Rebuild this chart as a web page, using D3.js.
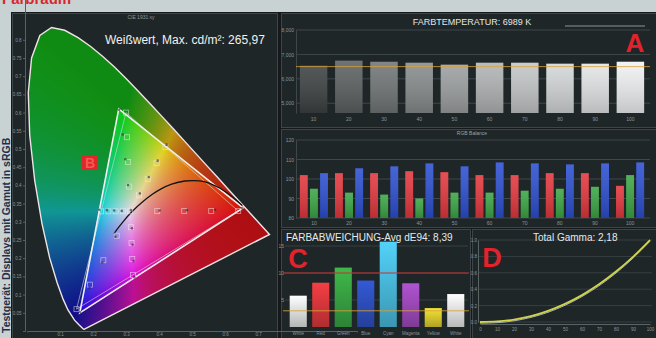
<!DOCTYPE html>
<html>
<head>
<meta charset="utf-8">
<script src="https://cdn.jsdelivr.net/npm/d3@7"></script>
<style>
  body { margin: 0; background: #c8d1d0; }
  svg { display: block; font-family: "Liberation Sans", Arial, sans-serif; }
</style>
</head>
<body>
<svg id="chart" width="656" height="338"></svg>
<script>
// ---------------- data ----------------
// CIE 1931 spectral locus (x, y), 380–700 nm
const spectralLocus = [
  [0.1741,0.0050],[0.1738,0.0049],[0.1733,0.0048],[0.1726,0.0048],[0.1714,0.0051],
  [0.1689,0.0069],[0.1644,0.0109],[0.1566,0.0177],[0.1440,0.0297],[0.1241,0.0578],
  [0.1096,0.0868],[0.0913,0.1327],[0.0687,0.2007],[0.0454,0.2950],[0.0235,0.4127],
  [0.0082,0.5384],[0.0039,0.6548],[0.0139,0.7502],[0.0389,0.8120],[0.0743,0.8338],
  [0.1142,0.8262],[0.1547,0.8059],[0.1929,0.7816],[0.2296,0.7543],[0.2658,0.7243],
  [0.3016,0.6923],[0.3373,0.6589],[0.3731,0.6245],[0.4087,0.5896],[0.4441,0.5547],
  [0.4788,0.5202],[0.5125,0.4866],[0.5448,0.4544],[0.5752,0.4242],[0.6029,0.3965],
  [0.6270,0.3725],[0.6658,0.3340],[0.6915,0.3083],[0.7079,0.2920],[0.7190,0.2809],
  [0.7260,0.2740],[0.7300,0.2700],[0.7334,0.2666],[0.7347,0.2653]
];
// black-body locus, ~15000 K down to 1000 K
const planckLocus = [
  [0.2637,0.2673],[0.2722,0.2785],[0.2807,0.2884],[0.2952,0.3048],[0.3064,0.3166],
  [0.3221,0.3318],[0.3451,0.3516],[0.3805,0.3768],[0.4053,0.3907],[0.4369,0.4041],
  [0.4770,0.4137],[0.5267,0.4133],[0.5491,0.4082],[0.5857,0.3931],[0.6251,0.3674],
  [0.6528,0.3444]
];
const referenceGamut = [[0.640,0.330],[0.300,0.600],[0.150,0.060]];
const measuredGamut  = [[0.655,0.338],[0.278,0.610],[0.160,0.050]];
// saturation sweep targets (white, then 25/50/75/100 % of R, G, B, C, M, Y)
const sweepTargets = [
  [0.3127,0.3290],
  [0.3946,0.3293],[0.4764,0.3295],[0.5582,0.3298],[0.6400,0.3300],
  [0.3095,0.3968],[0.3064,0.4645],[0.3032,0.5323],[0.3000,0.6000],
  [0.2720,0.2618],[0.2314,0.1945],[0.1907,0.1273],[0.1500,0.0600],
  [0.2907,0.3289],[0.2687,0.3289],[0.2467,0.3288],[0.2247,0.3287],
  [0.3148,0.2853],[0.3168,0.2416],[0.3189,0.1979],[0.3209,0.1542],
  [0.3394,0.3731],[0.3660,0.4172],[0.3927,0.4612],[0.4193,0.5053]
];
const sweepMeasured = [
  [0.3150,0.3320],
  [0.4020,0.3310],[0.4850,0.3320],[0.5700,0.3330],[0.6520,0.3370],
  [0.3060,0.4010],[0.2980,0.4720],[0.2900,0.5400],[0.2790,0.6080],
  [0.2680,0.2590],[0.2280,0.1880],[0.1900,0.1190],[0.1610,0.0520],
  [0.2870,0.3300],[0.2640,0.3310],[0.2420,0.3320],[0.2190,0.3330],
  [0.3180,0.2820],[0.3200,0.2370],[0.3230,0.1920],[0.3250,0.1480],
  [0.3420,0.3780],[0.3690,0.4230],[0.3960,0.4680],[0.4230,0.5120]
];
const cieXTicks = [0.1,0.2,0.3,0.4,0.5,0.6,0.7];
const cieYTicks = [0.05,0.1,0.15,0.2,0.25,0.3,0.35,0.4,0.45,0.5,0.55,0.6,0.65,0.7,0.75,0.8];

// colour temperature per grey level (K)
const greyLevels = ["10","20","30","40","50","60","70","80","90","100"];
const cctValues  = [6540,6745,6700,6660,6580,6660,6660,6620,6620,6700];
const cctTicks   = [5000,6000,7000,8000];
const cctTarget  = 6500;

// RGB balance per grey level (%)
const rgbRed   = [102.0,103.0,103.0,104.0,103.5,102.0,102.0,103.0,103.0,96.5];
const rgbGreen = [95.0,93.0,92.0,90.0,93.0,93.0,94.0,95.0,96.0,102.0];
const rgbBlue  = [103.0,105.5,106.5,108.0,106.5,108.5,108.0,107.5,108.0,108.5];
const rgbTicks = [80,90,100,110,120];

// colour deviation per patch (dE94)
const patchNames   = ["White","Red","Green","Blue","Cyan","Magenta","Yellow","White"];
const patchDeltaE  = [5.8,8.2,11.0,8.6,15.8,8.1,3.5,6.1];
const deltaETicks  = [5,10,15];
const deltaELimits = [3,10];

// gamma: stimulus (%) vs. normalised luminance
const gammaInput    = [0,10,20,30,40,50,60,70,80,90,100];
const gammaMeasured = [0,0.0066,0.030,0.072,0.136,0.221,0.328,0.459,0.615,0.795,1];
const gammaTarget   = [0,0.0063,0.029,0.071,0.133,0.218,0.325,0.456,0.612,0.793,1];
const gammaTicks    = [0,0.2,0.4,0.6,0.8,1];

// ---------------- styles ----------------
const barGreys    = ["#3d4142","#5c6061","#717576","#878b8c","#9c9fa0","#b0b3b4","#c3c6c7","#d3d6d7","#e2e4e5","#f0f1f2"];
const patchFills  = ["#e8eaea","#e03a3e","#3aa845","#2f52c4","#4cc0e4","#a24cc0","#e0d030","#eceeee"];
const FONT = '"Liberation Sans", Arial, sans-serif';
const TICK = "#8c9597";

const svg = d3.select("#chart");
const defs = svg.append("defs");

// paper around the screen
svg.append("rect").attr("width",656).attr("height",338).attr("fill","#c9d2d2");
svg.append("text").attr("x",2).attr("y",4).attr("fill","#d8262e")
  .attr("font-size",15).attr("font-weight","bold").text("Farbraum");
svg.append("text").attr("transform","translate(10,333) rotate(-90)")
  .attr("fill","#22304c").attr("font-size",10.5).attr("font-weight","bold")
  .text("Testgerät: Displays mit Gamut in sRGB");

// screen
svg.append("rect").attr("x",11).attr("y",12).attr("width",645).attr("height",326).attr("fill","#15191b");

function panel(x,y,w,h){
  svg.append("rect").attr("x",x+0.5).attr("y",y+0.5).attr("width",w).attr("height",h)
    .attr("fill","#1f2628").attr("stroke","#3d4548").attr("stroke-width",1);
}
panel(12,13,265,330);
panel(281,13,380,114);
panel(281,129,380,98);
panel(281,229,189,120);
panel(472,229,190,120);

// ---------------- CIE chart ----------------
const cx = d3.scaleLinear().domain([0,1]).range([27,357]);
const cy = d3.scaleLinear().domain([0,1]).range([331,-33]);
const xyLine = d3.line().x(d=>cx(d[0])).y(d=>cy(d[1]));

svg.append("text").attr("x",141).attr("y",18.5).attr("text-anchor","middle")
  .attr("fill","#8e989a").attr("font-size",5).text("CIE 1931 xy");

defs.append("clipPath").attr("id","horseshoe")
  .append("path").attr("d", xyLine(spectralLocus) + "Z");

// chromaticity fill, computed per pixel from xy; brighter inside the display gamut
(function(){
  const ox = 18, oy = 16, w = 262, h = 320;
  const cv = document.createElement("canvas");
  cv.width = w; cv.height = h;
  const ctx = cv.getContext("2d");
  const img = ctx.createImageData(w,h);
  const enc = v => Math.pow(Math.max(0,v), 1/2.2);
  for (let j=0;j<h;j++){
    for (let i=0;i<w;i++){
      const x = cx.invert(ox+i+0.5);
      const y = Math.max(0.003, cy.invert(oy+j+0.5));
      const X = x/y, Y = 1, Z = (1-x-y)/y;
      let r =  3.2406*X - 1.5372*Y - 0.4986*Z;
      let g = -0.9689*X + 1.8758*Y + 0.0415*Z;
      let b =  0.0557*X - 0.2040*Y + 1.0570*Z;
      r = Math.max(0,r); g = Math.max(0,g); b = Math.max(0,b);
      const m = Math.max(r,g,b,1e-6);
      r = enc(r/m); g = enc(g/m); b = enc(b/m);
      const avg = (r+g+b)/3;
      const inside = d3.polygonContains(measuredGamut, [x,y]);
      let out;
      if (inside) {
        const t = (c,k) => 0.05 + k*Math.pow(0.92*c + 0.08*avg, 1.7);
        out = [t(r,0.86), t(g,0.80), t(b,0.86)];
      } else {
        const t = (c,k,o,e) => o + k*Math.pow(0.88*c + 0.12*avg, e);
        out = [t(r,0.74,0.06,2.2), t(g,0.58,0.06,2.2), t(b,0.58,0.07,3.0)];
      }
      const k = (j*w+i)*4;
      img.data[k]   = 255*out[0];
      img.data[k+1] = 255*out[1];
      img.data[k+2] = 255*out[2];
      img.data[k+3] = 255;
    }
  }
  ctx.putImageData(img,0,0);
  svg.append("image").attr("x",ox).attr("y",oy).attr("width",w).attr("height",h)
    .attr("href", cv.toDataURL()).attr("clip-path","url(#horseshoe)");
})();

svg.append("path").attr("d", xyLine(spectralLocus)+"Z")
  .attr("fill","none").attr("stroke","#efe4e4").attr("stroke-width",1.4);

// axes
const cieLeft = svg.append("g").attr("transform","translate(25,0)")
  .call(d3.axisLeft(cy).tickValues(cieYTicks).tickSize(2).tickPadding(1.5).tickFormat(d3.format(".2~f")));
const cieBottom = svg.append("g").attr("transform","translate(0,331)")
  .call(d3.axisBottom(cx).tickValues(cieXTicks).tickSize(1.5).tickPadding(0.5).tickFormat(d3.format(".1f")));
[cieLeft,cieBottom].forEach(g=>{
  g.select(".domain").attr("stroke","#59625f");
  g.selectAll(".tick line").attr("stroke","#59625f");
  g.selectAll("text").attr("fill",TICK).attr("font-size",4.5).attr("font-family",FONT);
});

// gamut triangles
svg.append("path").attr("d", xyLine(referenceGamut)+"Z")
  .attr("fill","none").attr("stroke","#d8d8d8").attr("stroke-opacity",0.6).attr("stroke-width",1);
svg.append("path").attr("d", xyLine(measuredGamut)+"Z")
  .attr("fill","none").attr("stroke","#f2eeee").attr("stroke-width",1.6);

// black-body locus
svg.append("path").attr("d", d3.line().curve(d3.curveBasis).x(d=>cx(d[0])).y(d=>cy(d[1]))(planckLocus))
  .attr("fill","none").attr("stroke","#141414").attr("stroke-width",1.3);

// sweep targets (squares) and measurements (dots)
svg.append("g").selectAll("rect").data(sweepTargets).join("rect")
  .attr("x",d=>cx(d[0])-2.5).attr("y",d=>cy(d[1])-2.5).attr("width",5).attr("height",5)
  .attr("fill","none").attr("stroke","#f2eeee").attr("stroke-opacity",0.6).attr("stroke-width",0.8);
svg.append("g").selectAll("circle").data(sweepMeasured).join("circle")
  .attr("cx",d=>cx(d[0])).attr("cy",d=>cy(d[1])).attr("r",1.3)
  .attr("fill","#2a2a2a").attr("fill-opacity",0.6);

svg.append("text").attr("x",105).attr("y",44).attr("fill","#f0f2f2")
  .attr("font-size",12).text("Weißwert, Max. cd/m²: 265,97");

// marker B
svg.append("rect").attr("x",82).attr("y",155).attr("width",16).attr("height",15).attr("fill","#e2262c");
svg.append("text").attr("x",90).attr("y",168).attr("text-anchor","middle")
  .attr("fill","#f45a50").attr("font-size",14).attr("font-weight","bold").text("B");

// ---------------- A: colour temperature ----------------
const xA = d3.scaleBand().domain(greyLevels).range([296,648]).paddingInner(0.22).paddingOuter(0.11);
const yA = d3.scaleLinear().domain([4600,8000]).range([113,30]);

svg.append("text").attr("x",472).attr("y",25).attr("text-anchor","middle")
  .attr("fill","#e2e6e6").attr("font-size",9).text("FARBTEMPERATUR: 6989 K");
svg.append("line").attr("x1",565).attr("x2",645).attr("y1",26).attr("y2",26)
  .attr("stroke","#8d9496").attr("stroke-width",1);

svg.append("g").selectAll("line").data(cctTicks).join("line")
  .attr("x1",296).attr("x2",650).attr("y1",d=>yA(d)).attr("y2",d=>yA(d))
  .attr("stroke","#3e474a").attr("stroke-width",1);
const axA = svg.append("g").attr("transform","translate(296,0)")
  .call(d3.axisLeft(yA).tickValues(cctTicks).tickSize(0).tickPadding(2));
axA.select(".domain").attr("stroke","#3e474a");
axA.selectAll("text").attr("fill",TICK).attr("font-size",5).attr("font-family",FONT);

const shade = defs.append("linearGradient").attr("id","shade").attr("x1",0).attr("x2",0).attr("y1",0).attr("y2",1);
shade.append("stop").attr("offset","0%").attr("stop-color","#fff").attr("stop-opacity",0.12);
shade.append("stop").attr("offset","100%").attr("stop-color","#000").attr("stop-opacity",0.18);

svg.append("g").selectAll("rect").data(cctValues).join("rect")
  .attr("x",(d,i)=>xA(greyLevels[i])).attr("width",xA.bandwidth())
  .attr("y",d=>yA(d)).attr("height",d=>yA(4600)-yA(d))
  .attr("fill",(d,i)=>barGreys[i]);
svg.append("g").selectAll("rect").data(cctValues).join("rect")
  .attr("x",(d,i)=>xA(greyLevels[i])).attr("width",xA.bandwidth())
  .attr("y",d=>yA(d)).attr("height",d=>yA(4600)-yA(d))
  .attr("fill","url(#shade)");
svg.append("line").attr("x1",296).attr("x2",650).attr("y1",yA(cctTarget)).attr("y2",yA(cctTarget))
  .attr("stroke","#d8a03a").attr("stroke-width",1).attr("stroke-opacity",0.8);
svg.append("g").selectAll("text").data(greyLevels).join("text")
  .attr("x",d=>xA(d)+xA.bandwidth()/2).attr("y",121).attr("text-anchor","middle")
  .attr("fill",TICK).attr("font-size",5).text(d=>d);

svg.append("text").attr("x",635).attr("y",52).attr("text-anchor","middle")
  .attr("fill","#e3222c").attr("font-size",26).attr("font-weight","bold").text("A");

// ---------------- RGB balance ----------------
const xB = d3.scaleBand().domain(greyLevels).range([296,648]).paddingInner(0.2).paddingOuter(0.11);
const xBi = d3.scaleBand().domain(["r","g","b"]).range([0,xB.bandwidth()]).paddingInner(0.22);
const yB = d3.scaleLinear().domain([80,120]).range([218,140]);

svg.append("text").attr("x",472).attr("y",135).attr("text-anchor","middle")
  .attr("fill","#9aa3a5").attr("font-size",5).text("RGB Balance");
svg.append("g").selectAll("line").data(rgbTicks).join("line")
  .attr("x1",296).attr("x2",650).attr("y1",d=>yB(d)).attr("y2",d=>yB(d))
  .attr("stroke","#3e474a").attr("stroke-width",1);
const axB = svg.append("g").attr("transform","translate(296,0)")
  .call(d3.axisLeft(yB).tickValues(rgbTicks).tickSize(0).tickPadding(2));
axB.select(".domain").attr("stroke","#3e474a");
axB.selectAll("text").attr("fill",TICK).attr("font-size",5).attr("font-family",FONT);

const rgbSeries = [
  {key:"r", values:rgbRed,   fill:"#e2373d"},
  {key:"g", values:rgbGreen, fill:"#3aa544"},
  {key:"b", values:rgbBlue,  fill:"#2c4fd0"}
];
rgbSeries.forEach(s=>{
  const g = svg.append("g");
  g.selectAll("rect.bar").data(s.values).join("rect").attr("class","bar")
    .attr("x",(d,i)=>xB(greyLevels[i])+xBi(s.key)).attr("width",xBi.bandwidth())
    .attr("y",d=>yB(d)).attr("height",d=>yB(80)-yB(d)).attr("fill",s.fill);
  g.selectAll("rect.sh").data(s.values).join("rect").attr("class","sh")
    .attr("x",(d,i)=>xB(greyLevels[i])+xBi(s.key)).attr("width",xBi.bandwidth())
    .attr("y",d=>yB(d)).attr("height",d=>yB(80)-yB(d)).attr("fill","url(#shade)");
});
svg.append("g").selectAll("text").data(greyLevels).join("text")
  .attr("x",d=>xB(d)+xB.bandwidth()/2).attr("y",225).attr("text-anchor","middle")
  .attr("fill",TICK).attr("font-size",5).text(d=>d);

// ---------------- C: colour deviation ----------------
const xC = d3.scaleBand().domain(d3.range(patchNames.length)).range([287,467]).paddingInner(0.24).paddingOuter(0.12);
const yC = d3.scaleLinear().domain([0,17]).range([327,235.2]);

svg.append("g").selectAll("line").data(deltaETicks).join("line")
  .attr("x1",285).attr("x2",468).attr("y1",d=>yC(d)).attr("y2",d=>yC(d))
  .attr("stroke","#363f42").attr("stroke-width",1);
const axC = svg.append("g").attr("transform","translate(285,0)")
  .call(d3.axisLeft(yC).tickValues(deltaETicks).tickSize(0).tickPadding(1));
axC.select(".domain").remove();
axC.selectAll("text").attr("fill",TICK).attr("font-size",5).attr("font-family",FONT);

const patchGrad = patchFills.map((c,i)=>{
  const id = "patch"+i;
  const lg = defs.append("linearGradient").attr("id",id).attr("x1",0).attr("x2",0).attr("y1",0).attr("y2",1);
  lg.append("stop").attr("offset","0%").attr("stop-color",d3.color(c).brighter(0.25));
  lg.append("stop").attr("offset","100%").attr("stop-color",d3.color(c).darker(0.7));
  return "url(#"+id+")";
});
svg.append("g").selectAll("rect").data(patchDeltaE).join("rect")
  .attr("x",(d,i)=>xC(i)).attr("width",xC.bandwidth())
  .attr("y",d=>yC(d)).attr("height",d=>yC(0)-yC(d)).attr("fill",(d,i)=>patchGrad[i]);

svg.append("line").attr("x1",283).attr("x2",469).attr("y1",yC(deltaELimits[1])).attr("y2",yC(deltaELimits[1]))
  .attr("stroke","#c83030").attr("stroke-width",1.2);
svg.append("line").attr("x1",283).attr("x2",469).attr("y1",yC(deltaELimits[0])).attr("y2",yC(deltaELimits[0]))
  .attr("stroke","#d8a03a").attr("stroke-width",1).attr("stroke-opacity",0.85);

svg.append("g").selectAll("text").data(patchNames).join("text")
  .attr("x",(d,i)=>xC(i)+xC.bandwidth()/2).attr("y",334.5).attr("text-anchor","middle")
  .attr("fill",TICK).attr("font-size",4.5).text(d=>d);

svg.append("text").attr("x",286).attr("y",241).attr("fill","#e6eaea")
  .attr("font-size",10).text("FARBABWEICHUNG-Avg dE94: 8,39");
svg.append("text").attr("x",298).attr("y",268).attr("text-anchor","middle")
  .attr("fill","#e3222c").attr("font-size",27).attr("font-weight","bold").text("C");

// ---------------- D: gamma ----------------
const xD = d3.scaleLinear().domain([0,100]).range([480,650]);
const yD = d3.scaleLinear().domain([0,1]).range([322,240]);

svg.append("g").selectAll("line").data(gammaTicks).join("line")
  .attr("x1",478).attr("x2",652).attr("y1",d=>yD(d)).attr("y2",d=>yD(d))
  .attr("stroke","#363f42").attr("stroke-width",1);
const axDy = svg.append("g").attr("transform","translate(478,0)")
  .call(d3.axisLeft(yD).tickValues(gammaTicks).tickSize(0).tickPadding(1).tickFormat(d3.format(".1f")));
axDy.select(".domain").attr("stroke","#5a6366");
axDy.selectAll("text").attr("fill",TICK).attr("font-size",4.5).attr("font-family",FONT);
const axDx = svg.append("g").attr("transform","translate(0,324)")
  .call(d3.axisBottom(xD).tickValues(gammaInput).tickSize(0).tickPadding(4));
axDx.select(".domain").attr("stroke","#5a6366");
axDx.selectAll("text").attr("fill",TICK).attr("font-size",4.5).attr("font-family",FONT);

const gLine = d3.line().curve(d3.curveMonotoneX).x((d,i)=>xD(gammaInput[i])).y(d=>yD(d));
svg.append("path").attr("d",gLine(gammaTarget)).attr("fill","none")
  .attr("stroke","#a8b4bc").attr("stroke-width",1).attr("transform","translate(0,1.2)");
svg.append("path").attr("d",gLine(gammaMeasured)).attr("fill","none")
  .attr("stroke","#d2d44a").attr("stroke-width",1.8);

svg.append("text").attr("x",533).attr("y",241).attr("fill","#e6eaea")
  .attr("font-size",10).text("Total Gamma: 2,18");
svg.append("text").attr("x",492).attr("y",267).attr("text-anchor","middle")
  .attr("fill","#e3222c").attr("font-size",27).attr("font-weight","bold").text("D");
</script>
</body>
</html>
